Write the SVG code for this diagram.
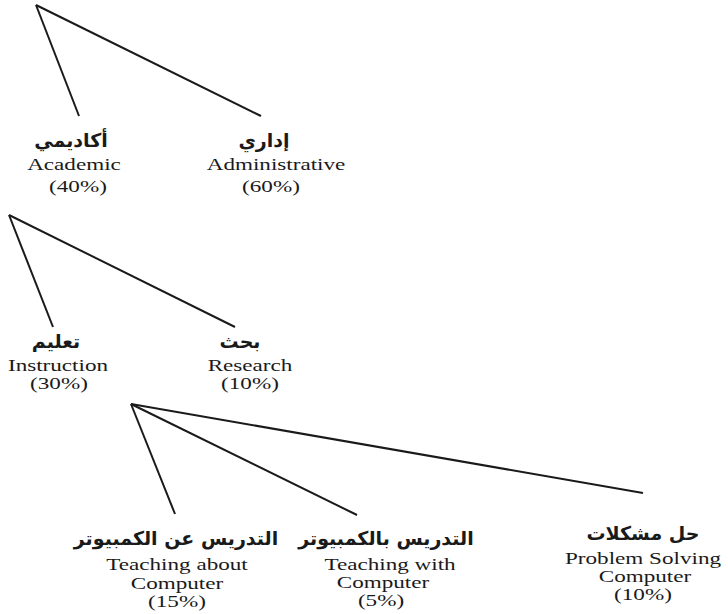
<svg xmlns="http://www.w3.org/2000/svg" width="728" height="614" viewBox="0 0 728 614">
<style>
.ln{stroke:#1a1a1a;stroke-width:2;fill:none}
.en{font-family:"Liberation Serif","Times New Roman",serif;font-size:17px;fill:#1a1a1a;text-anchor:middle}
.ar{font-family:"DejaVu Sans",sans-serif;font-size:19px;font-weight:bold;fill:#1a1a1a;text-anchor:middle;direction:rtl}
</style>
<rect width="728" height="614" fill="#fff"/>
<g id="connectors">
<line class="ln" x1="36" y1="5" x2="79" y2="116"/>
<line class="ln" x1="36" y1="5" x2="261" y2="116"/>
<line class="ln" x1="9" y1="215" x2="53" y2="327"/>
<line class="ln" x1="9" y1="215" x2="235" y2="327"/>
<line class="ln" x1="131" y1="404" x2="175" y2="514"/>
<line class="ln" x1="131" y1="404" x2="357" y2="515"/>
<line class="ln" x1="131" y1="404" x2="643" y2="493"/>
</g>
<g id="academic">
<text class="ar" x="71" y="147">أكاديمي</text>
<text class="en" transform="translate(74,170) scale(1.36,1)">Academic</text>
<text class="en" transform="translate(78,192) scale(1.36,1)">(40%)</text>
</g>
<g id="administrative">
<text class="ar" x="264" y="147">إداري</text>
<text class="en" transform="translate(276,170) scale(1.36,1)">Administrative</text>
<text class="en" transform="translate(271,192) scale(1.36,1)">(60%)</text>
</g>
<g id="instruction">
<text class="ar" x="56" y="348">تعليم</text>
<text class="en" transform="translate(58,371) scale(1.36,1)">Instruction</text>
<text class="en" transform="translate(59,389) scale(1.36,1)">(30%)</text>
</g>
<g id="research">
<text class="ar" x="240" y="348">بحث</text>
<text class="en" transform="translate(250,371) scale(1.36,1)">Research</text>
<text class="en" transform="translate(250,389) scale(1.36,1)">(10%)</text>
</g>
<g id="teaching-about">
<text class="ar" x="176" y="545">التدريس عن الكمبيوتر</text>
<text class="en" transform="translate(177,570) scale(1.36,1)">Teaching about</text>
<text class="en" transform="translate(177,589) scale(1.36,1)">Computer</text>
<text class="en" transform="translate(177,607) scale(1.36,1)">(15%)</text>
</g>
<g id="teaching-with">
<text class="ar" x="386" y="545">التدريس بالكمبيوتر</text>
<text class="en" transform="translate(390,570) scale(1.36,1)">Teaching with</text>
<text class="en" transform="translate(383,588) scale(1.36,1)">Computer</text>
<text class="en" transform="translate(381,606) scale(1.36,1)">(5%)</text>
</g>
<g id="problem-solving">
<text class="ar" x="643" y="540">حل مشكلات</text>
<text class="en" transform="translate(643,564) scale(1.36,1)">Problem Solving</text>
<text class="en" transform="translate(645,582) scale(1.36,1)">Computer</text>
<text class="en" transform="translate(643,600) scale(1.36,1)">(10%)</text>
</g>
</svg>
